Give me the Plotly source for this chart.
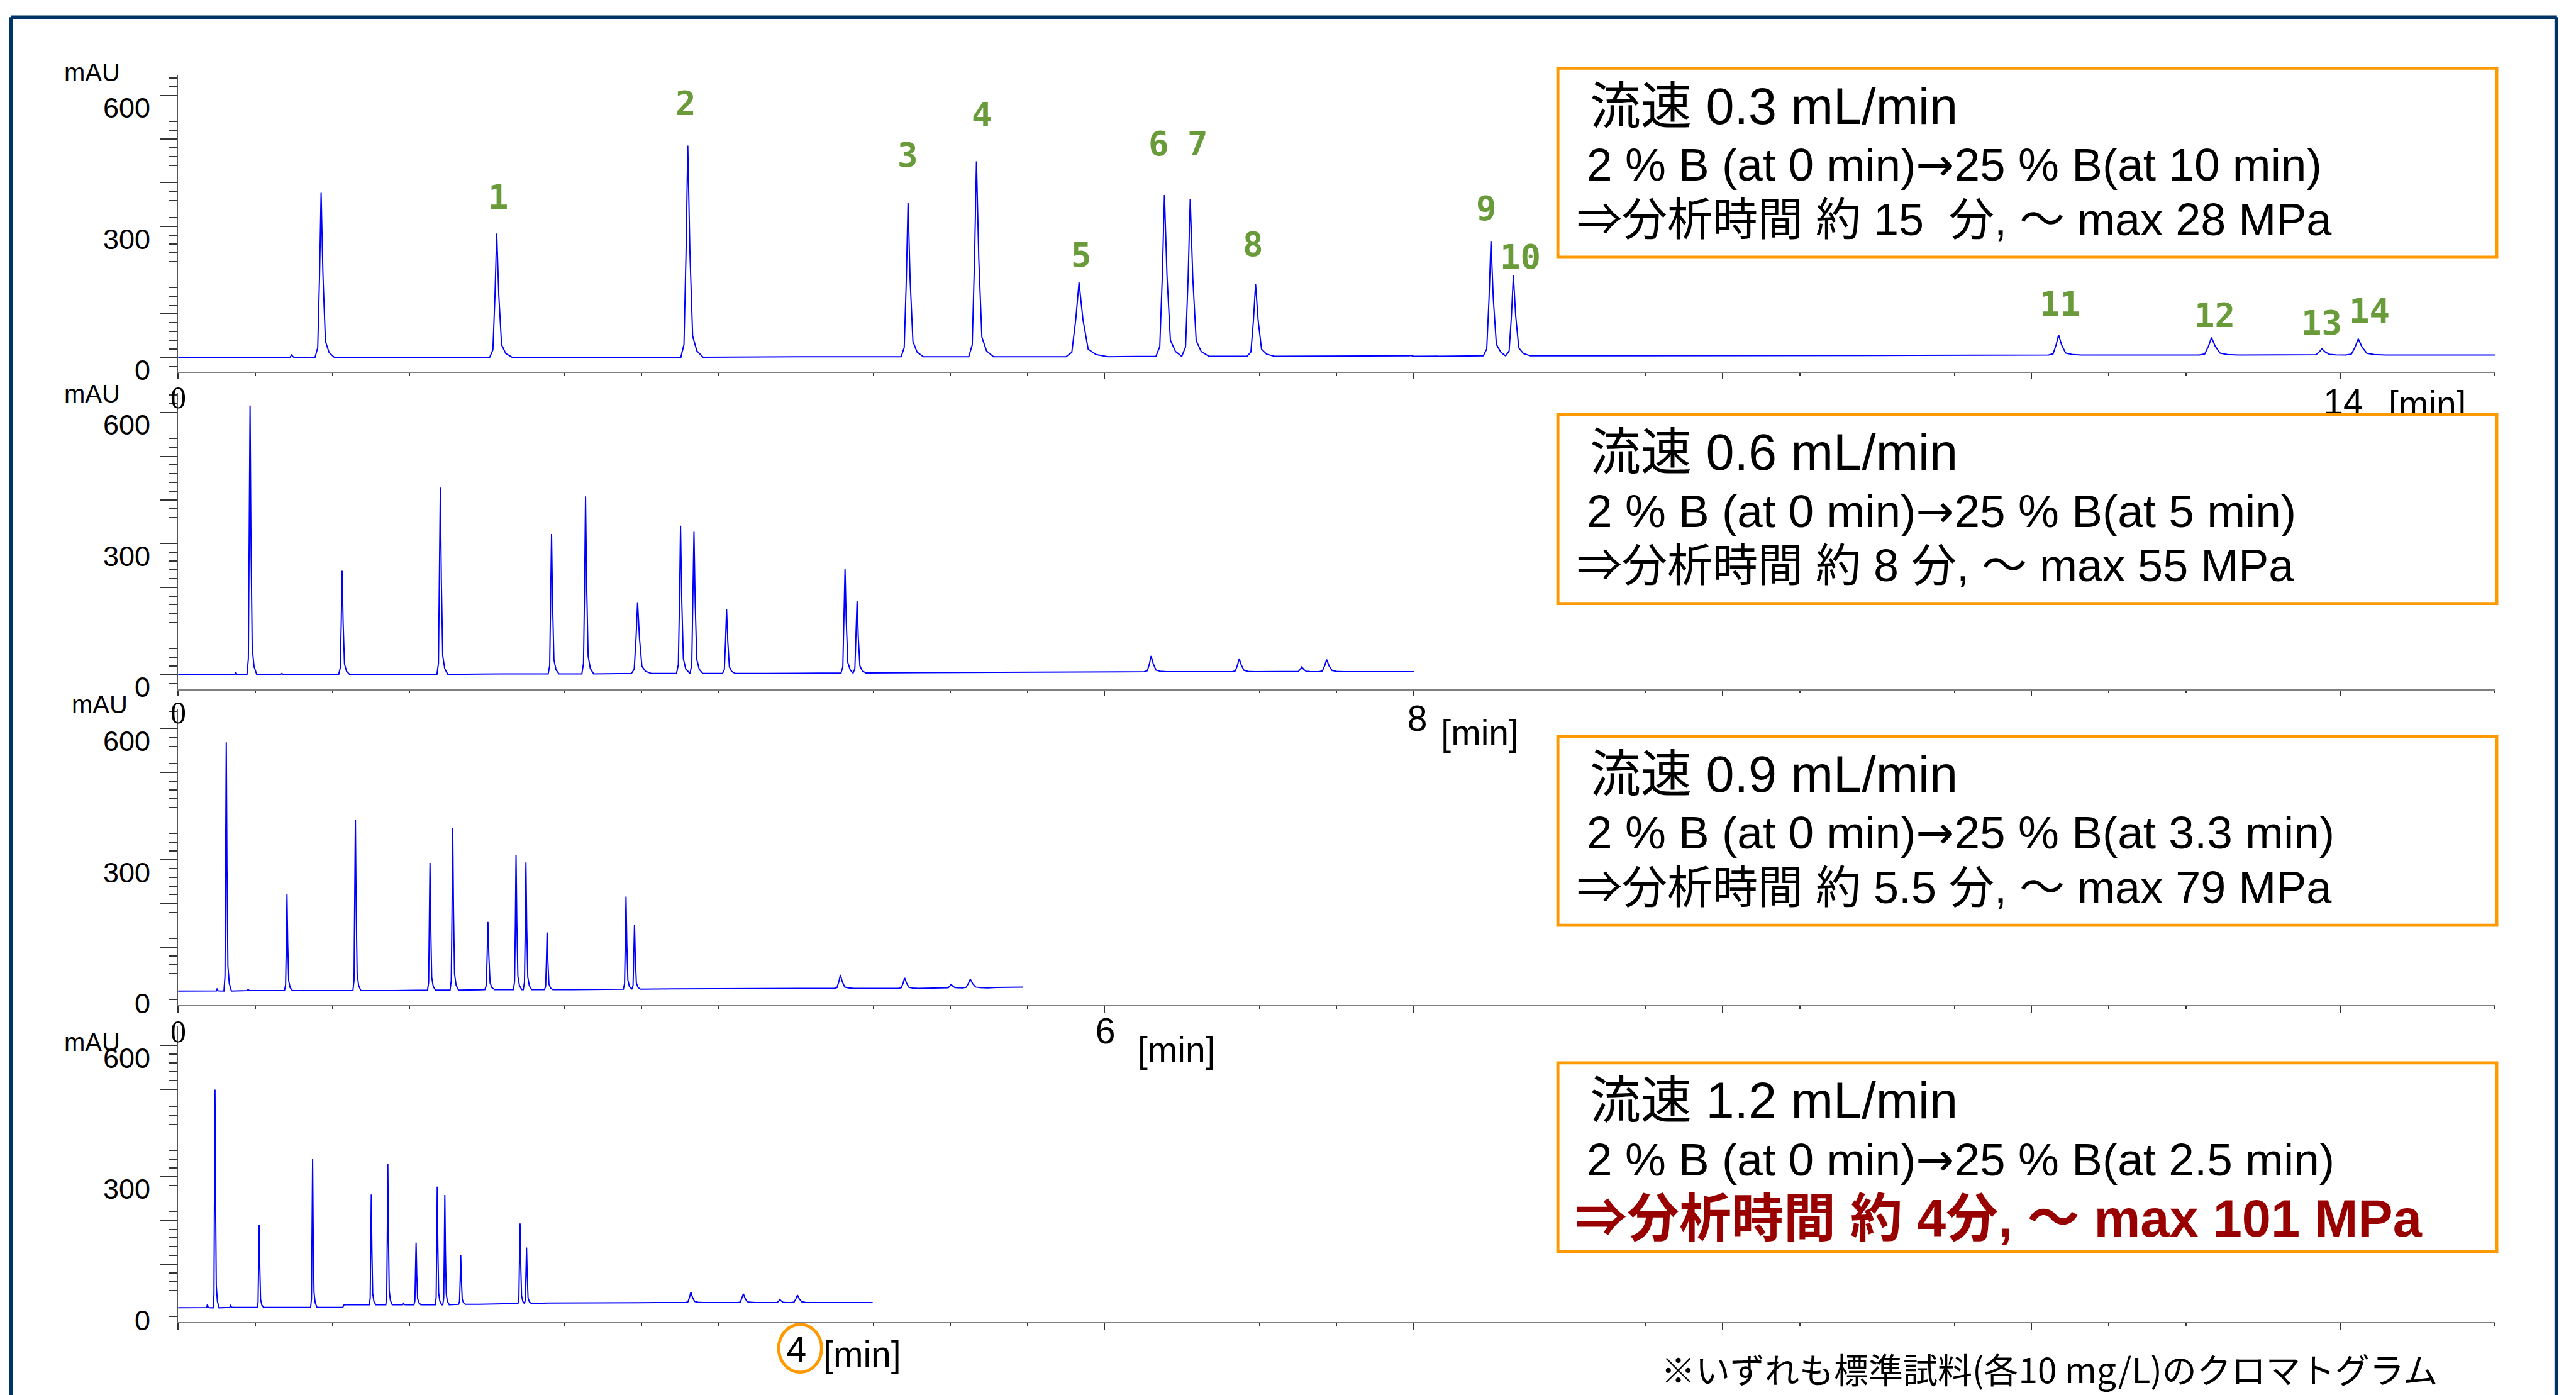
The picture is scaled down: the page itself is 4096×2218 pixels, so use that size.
import plotly.graph_objects as go

# ---------------- data ----------------
# Panel 1 : 0.3 mL/min
P1_RT = [0.735, 0.926, 2.063, 3.300, 4.726, 5.169, 5.833, 6.386, 6.553, 6.976, 7.980, 8.500, 8.645, 12.175, 13.165, 13.880, 14.115]
P1_H = [7, 377, 284, 485, 354, 449, 172, 372, 363, 168, 5, 267, 188, 52, 46, 20, 43]
P1_BASE = [0, 0, 1, 1, 2, 2, 2, 3, 3, 3, 3, 4, 4, 6, 6, 6, 6]
P1_W = [0.020, 0.040, 0.045, 0.045, 0.045, 0.050, 0.085, 0.055, 0.055, 0.055, 0.030, 0.050, 0.050, 0.065, 0.080, 0.070, 0.080]
P1_BT = [0.0, 0.60, 1.50, 2.70, 4.00, 7.50, 9.50, 11.00, 12.70, 13.60, 14.60, 15.00]
P1_BY = [0, 0, 1, 1, 2, 3, 4, 5, 6, 6, 6, 6]

# Panel 2 : 0.6 mL/min
P2_RT = [0.374, 0.466, 0.672, 1.062, 1.698, 2.418, 2.638, 2.975, 3.253, 3.340, 3.551, 4.066, 4.318, 4.396, 6.300, 6.870, 7.275, 7.436]
P2_H = [6, 616, 3, 238, 428, 322, 408, 166, 341, 327, 151, 4, 242, 169, 43, 37, 18, 35]
P2_BASE = [0, 0, 1, 1, 1, 2, 2, 3, 3, 3, 3, 4, 4, 4, 7, 7, 7, 7]
P2_W = [0.010, 0.020, 0.010, 0.022, 0.022, 0.022, 0.024, 0.040, 0.026, 0.026, 0.026, 0.015, 0.026, 0.026, 0.045, 0.045, 0.040, 0.050]
P2_BT = [0.0, 0.30, 0.80, 1.40, 2.10, 3.80, 4.80, 5.50, 6.60, 7.10, 7.70, 8.00]
P2_BY = [0, 0, 1, 1, 2, 3, 5, 6, 7, 7, 7, 7]

# Panel 3 : 0.9 mL/min
P3_RT = [0.253, 0.312, 0.454, 0.705, 1.148, 1.631, 1.778, 2.006, 2.188, 2.252, 2.389, 2.736, 2.900, 2.955, 4.288, 4.704, 5.005, 5.129]
P3_H = [6, 569, 4, 221, 392, 293, 373, 158, 311, 294, 134, 4, 216, 152, 37, 30, 15, 27]
P3_BASE = [0, 0, 1, 1, 1, 2, 2, 3, 3, 3, 3, 4, 4, 4, 6, 6, 7, 7]
P3_W = [0.008, 0.015, 0.008, 0.016, 0.016, 0.016, 0.017, 0.020, 0.017, 0.017, 0.017, 0.010, 0.017, 0.017, 0.040, 0.040, 0.035, 0.050]
P3_BT = [0.0, 0.20, 0.55, 0.95, 1.40, 2.55, 3.20, 3.80, 4.50, 5.30, 5.47]
P3_BY = [0, 0, 1, 1, 1, 3, 5, 6, 6, 8, 9]

# Panel 4 : 1.2 mL/min
P4_RT = [0.190, 0.239, 0.340, 0.525, 0.871, 1.251, 1.358, 1.460, 1.541, 1.678, 1.727, 1.830, 2.090, 2.214, 2.256, 3.320, 3.660, 3.896, 4.010]
P4_H = [8, 499, 7, 189, 341, 259, 330, 10, 149, 277, 258, 121, 10, 193, 138, 36, 32, 19, 29]
P4_BASE = [0, 0, 1, 1, 1, 7, 7, 7, 7, 7, 7, 8, 9, 9, 10, 12, 12, 12, 12]
P4_W = [0.008, 0.012, 0.008, 0.013, 0.013, 0.013, 0.013, 0.010, 0.014, 0.013, 0.013, 0.014, 0.010, 0.014, 0.014, 0.035, 0.035, 0.030, 0.040]
P4_BT = [0.0, 0.15, 0.42, 0.70, 1.066, 1.075, 1.15, 1.95, 2.40, 2.80, 3.10, 3.50, 4.20, 4.497]
P4_BY = [0, 0, 1, 1, 1, 7, 7, 8, 11, 12, 12, 12, 12, 12]

PEAK_NUMBERS = ["1", "2", "3", "4", "5", "6", "7", "8", "9", "10", "11", "12", "13", "14"]

FLOW_TITLES = ["流速 0.3 mL/min", "流速 0.6 mL/min", "流速 0.9 mL/min", "流速 1.2 mL/min"]
GRADIENTS = ["2 % B (at 0 min)→25 % B(at 10 min)",
             "2 % B (at 0 min)→25 % B(at 5 min)",
             "2 % B (at 0 min)→25 % B(at 3.3 min)",
             "2 % B (at 0 min)→25 % B(at 2.5 min)"]
RESULTS = ["⇒分析時間 約 15\u00a0\u00a0分, ～ max 28 MPa",
           "⇒分析時間 約 8 分, ～ max 55 MPa",
           "⇒分析時間 約 5.5 分, ～ max 79 MPa",
           "⇒分析時間 約 4分, ～ max 101 MPa"]
Y_TICK_VALUES = [600, 300, 0]
Y_TICK_LABELS = ["600", "300", "0"]
Y_UNIT = "mAU"
X_START_LABEL = "0"
X_END_TICKS = ["14", "8", "6", "4"]
X_UNIT = "[min]"
FOOTNOTE = "※いずれも標準試料(各10 mg/L)のクロマトグラム"

# ---------------- geometry / style ----------------
WR, HR = 4195, 2272
W, H = 4096, 2218
S = W / WR
X0_PX, X1_PX = 290, 4063
X_RANGE = [0, 15]
Y_RANGE = [-32, 645]
PXY = 0.712                      # ref px per mAU
ZERO_PX = [582.5, 1099, 1614, 2130]
BOX_TOP = [111, 675, 1199, 1731]
BOX_H = 308
BOX_X0, BOX_X1 = 2537, 4066
BLUE = "#0000FF"
ORANGE = "#FF9900"
GREEN = "#6A9B3A"
DARKRED = "#990000"
NAVY = "#003366"
SANS = "Liberation Sans, Arial, Noto Sans CJK JP, sans-serif"
CJK = "Noto Sans CJK JP, Liberation Sans, sans-serif"
ARROW = '<span style="font-family:DejaVu Sans">→</span>'

PANELS = [
    (P1_RT, P1_H, P1_BASE, P1_W, P1_BT, P1_BY),
    (P2_RT, P2_H, P2_BASE, P2_W, P2_BT, P2_BY),
    (P3_RT, P3_H, P3_BASE, P3_W, P3_BT, P3_BY),
    (P4_RT, P4_H, P4_BASE, P4_W, P4_BT, P4_BY),
]

# peak shape template (in units of width and of height above base)
SHAPE_DX = [-1.0, -0.55, -0.25, 0.0, 0.3, 0.7, 1.3, 2.2]
SHAPE_DY = [0.0, 0.06, 0.5, 1.0, 0.5, 0.1, 0.03, 0.0]


def fx(p):
    return p / WR


def fy(p):
    return 1 - p / HR


def t_of(px):
    return X_RANGE[0] + (px - X0_PX) / (X1_PX - X0_PX) * (X_RANGE[1] - X_RANGE[0])


def v_of(py, i):
    return (ZERO_PX[i] - py) / PXY


def build(rt, h, base, w, bt, by):
    pts = []
    spans = []
    for i in range(len(rt)):
        nxt = rt[i + 1] - w[i + 1] if i + 1 < len(rt) else 1e9
        for dx, dy in zip(SHAPE_DX, SHAPE_DY):
            t = rt[i] + dx * w[i]
            if dx > 0 and t >= nxt:
                break
            pts.append((t, base[i] + dy * (h[i] - base[i])))
        spans.append((rt[i] - w[i], rt[i] + SHAPE_DX[-1] * w[i]))
    for t, y in zip(bt, by):
        if not any(a <= t <= c for a, c in spans):
            pts.append((t, y))
    pts.sort(key=lambda p: p[0])
    return [p[0] for p in pts], [p[1] for p in pts]


fig = go.Figure()
layout = dict(
    width=W, height=H, margin=dict(l=0, r=0, t=0, b=0),
    paper_bgcolor="white", plot_bgcolor="rgba(0,0,0,0)", showlegend=False,
)
annotations = []
shapes = []

for i, (rt, h, base, w, bt, by) in enumerate(PANELS):
    n = i + 1
    xs, ys = build(rt, h, base, w, bt, by)
    fig.add_trace(go.Scatter(x=xs, y=ys, mode="lines", line=dict(color=BLUE, width=2.0),
                             xaxis=f"x{n}", yaxis=f"y{n}", hoverinfo="skip"))
    bottom_px = ZERO_PX[i] - Y_RANGE[0] * PXY
    top_px = ZERO_PX[i] - Y_RANGE[1] * PXY
    layout[f"xaxis{n}"] = dict(
        domain=[fx(X0_PX), fx(X1_PX)], range=X_RANGE, anchor=f"y{n}",
        showline=True, linecolor="#808080", linewidth=2.5 * S,
        ticks="outside", ticklen=10 * S, tickwidth=1.5, tickcolor="#333333",
        tick0=0, dtick=2, showticklabels=False, showgrid=False, zeroline=False,
        minor=dict(ticks="outside", ticklen=5 * S, tickwidth=1.5, tickcolor="#333333", dtick=0.5, showgrid=False),
        fixedrange=True,
    )
    layout[f"yaxis{n}"] = dict(
        domain=[fy(bottom_px), fy(top_px)], range=Y_RANGE, anchor=f"x{n}",
        showline=True, linecolor="#555555", linewidth=1.5,
        ticks="outside", ticklen=27 * S, tickwidth=1.5, tickcolor="#333333",
        tick0=0, dtick=100, showticklabels=False, showgrid=False, zeroline=False,
        minor=dict(ticks="outside", ticklen=13 * S, tickwidth=1.5, tickcolor="#333333", tick0=0, dtick=20, showgrid=False),
        fixedrange=True,
    )
    # y tick labels
    for v, lab in zip(Y_TICK_VALUES, Y_TICK_LABELS):
        annotations.append(dict(x=fx(247), xref="paper", xanchor="right", y=v, yref=f"y{n}",
                                yanchor="middle", yshift=-20.5 * S, text=lab, showarrow=False,
                                font=dict(family=SANS, size=45, color="black")))

# overlay axes in reference-pixel units (for texts that the boxes must cover)
layout["xaxis5"] = dict(domain=[0, 1], range=[0, WR], anchor="y5", visible=False, fixedrange=True)
layout["yaxis5"] = dict(domain=[0, 1], range=[HR, 0], anchor="x5", visible=False, fixedrange=True)

# mAU labels
MAU_POS = [(150, 118), (150, 641), (162, 1147), (150, 1697)]
for (x, y) in MAU_POS:
    annotations.append(dict(x=fx(x), y=fy(y), xref="paper", yref="paper", text=Y_UNIT,
                            showarrow=False, xanchor="center", yanchor="middle",
                            font=dict(family=SANS, size=40, color="black")))

# x start labels "0" (panels 1-3)
X0_LABEL_Y = [647, 1161, 1680]
for y in X0_LABEL_Y:
    annotations.append(dict(x=fx(290), y=fy(y), xref="paper", yref="paper", text=X_START_LABEL,
                            showarrow=False, xanchor="center", yanchor="middle",
                            font=dict(family="Liberation Serif, serif", size=50, color="black")))

# x end labels as text marks (so the boxes can cover them)
END_NUM_POS = [(3816, 660), (2308, 1176), (1800, 1685), (1297, 2203)]
END_UNIT_POS = [(3953, 664), (2410, 1199), (1916, 1716), (1404, 2211)]
ex, ey, et = [], [], []
for i in range(4):
    (nx, ny), (ux, uy) = END_NUM_POS[i], END_UNIT_POS[i]
    ex += [nx, ux]
    ey += [ny, uy]
    et += [X_END_TICKS[i], X_UNIT]
fig.add_trace(go.Scatter(
    x=ex, y=ey, mode="text", text=et, textposition="middle center",
    textfont=dict(family=SANS, size=57, color="black"),
    xaxis="x5", yaxis="y5", hoverinfo="skip"))

# peak number labels (panel 1)
PEAK_LABEL_PX = [(811.6, 321), (1117, 169), (1478.6, 253), (1599, 187), (1761, 415),
                 (1887.5, 234), (1951, 234), (2041, 398), (2420.5, 340), (2476, 418),
                 (3355, 495), (3607, 514), (3781, 526), (3859, 507)]
for lab, (x, y) in zip(PEAK_NUMBERS, PEAK_LABEL_PX):
    annotations.append(dict(x=t_of(x), y=v_of(y, 0), xref="x1", yref="y1", text=lab,
                            showarrow=False, xanchor="center", yanchor="middle",
                            font=dict(family="DejaVu Sans Mono, monospace", size=54, color=GREEN, weight="bold")))

# condition boxes
for i in range(4):
    T = BOX_TOP[i]
    shapes.append(dict(type="rect", xref="paper", yref="paper", layer="above",
                       x0=fx(BOX_X0), x1=fx(BOX_X1), y0=fy(T), y1=fy(T + BOX_H),
                       line=dict(color=ORANGE, width=5 * S), fillcolor="white"))
    annotations.append(dict(x=fx(2587), y=fy(T + 62), xref="paper", yref="paper", text=FLOW_TITLES[i],
                            showarrow=False, xanchor="left", yanchor="middle",
                            font=dict(family=SANS, size=81, color="black")))
    annotations.append(dict(x=fx(2582), y=fy(T + 157), xref="paper", yref="paper",
                            text=GRADIENTS[i].replace("→", ARROW),
                            showarrow=False, xanchor="left", yanchor="middle",
                            font=dict(family=SANS, size=73, color="black")))
    if i < 3:
        annotations.append(dict(x=fx(2566), y=fy(T + 246), xref="paper", yref="paper", text=RESULTS[i],
                                showarrow=False, xanchor="left", yanchor="middle",
                                font=dict(family=SANS, size=72, color="black")))
    else:
        annotations.append(dict(x=fx(2562), y=fy(T + 254), xref="paper", yref="paper", text=RESULTS[i],
                                showarrow=False, xanchor="left", yanchor="middle",
                                font=dict(family=SANS, size=83, color=DARKRED, weight="bold")))

# orange circle around "4"
shapes.append(dict(type="circle", xref="paper", yref="paper", layer="above",
                   x0=fx(1268), x1=fx(1338), y0=fy(2157), y1=fy(2235),
                   line=dict(color=ORANGE, width=5 * S)))

# outer navy frame (left, top, right)
for (xa, ya, xb, yb) in [(18, 28, 18, 2272), (18, 28, 4163, 28), (4163, 28, 4163, 2272)]:
    shapes.append(dict(type="line", xref="paper", yref="paper", layer="above",
                       x0=fx(xa), y0=fy(ya), x1=fx(xb), y1=fy(yb),
                       line=dict(color=NAVY, width=6 * S)))

# footnote
annotations.append(dict(x=fx(2703), y=fy(2228), xref="paper", yref="paper", text=FOOTNOTE,
                        showarrow=False, xanchor="left", yanchor="middle",
                        font=dict(family=CJK, size=55, color="black")))

layout["annotations"] = annotations
layout["shapes"] = shapes
fig.update_layout(**layout)
fig.write_html("out.html", config={"displayModeBar": False, "staticPlot": True},
               post_script="document.body.style.margin='0';document.body.style.overflow='hidden';")
